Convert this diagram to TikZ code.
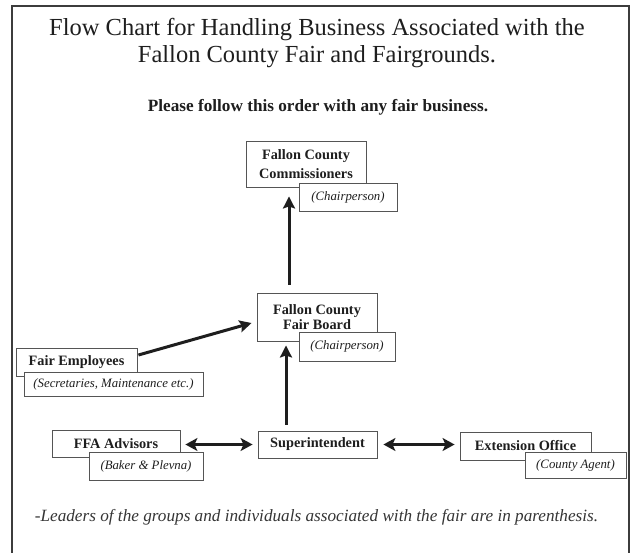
\documentclass[tikz,border=0pt]{standalone}
\usepackage{fontspec}
\setmainfont{Liberation Serif}
\usetikzlibrary{arrows.meta}
\definecolor{ink}{HTML}{1E1E1E}
\definecolor{edge}{HTML}{555555}
\definecolor{framec}{HTML}{3C3C3C}
\tikzset{
  box/.style={draw=edge, line width=0.9pt, fill=white, inner sep=0pt, text=ink,
    align=center, font=\fontsize{14.3}{18.5}\selectfont\bfseries},
  sub/.style={draw=edge, line width=0.9pt, fill=white, inner sep=0pt, text=ink,
    align=center, font=\fontsize{12.8}{15}\selectfont\itshape},
  arr/.style={draw=ink, line width=3pt, -{Stealth[length=12pt,width=12pt,inset=2pt]}},
  darr/.style={draw=ink, line width=3pt, {Stealth[length=12pt,width=13pt,inset=3pt]}-{Stealth[length=12pt,width=13pt,inset=3pt]}},
}
\begin{document}
\begin{tikzpicture}[x=1pt,y=-1pt]
\useasboundingbox (0,0) rectangle (634,552);
\draw[framec, line width=1.6pt] (12,580) -- (12,6) -- (629,6) -- (629,580);

\node[text=ink, align=center, font=\fontsize{24.5}{27}\selectfont] (title) at (317,43)
  {Flow Chart for Handling Business Associated with the\\Fallon County Fair and Fairgrounds.};
\node[text=ink, font=\fontsize{17.2}{19}\selectfont\bfseries] (please) at (318,107)
  {Please follow this order with any fair business.};

\node[box, minimum width=120pt, minimum height=46pt] (com) at (306,164)
  {Fallon County\\Commissioners};
\node[sub, minimum width=98pt, minimum height=28pt] (comc) at (348,197) {(Chairperson)};

\node[box, minimum width=120pt, minimum height=48pt, font=\fontsize{14.3}{15.5}\selectfont\bfseries] (fb) at (317,317)
  {Fallon County\\Fair Board};
\node[sub, minimum width=96pt, minimum height=29pt] (fbc) at (347,346.5) {(Chairperson)};

\node[box, minimum width=121pt, minimum height=28pt] (fe) at (76.5,362) {Fair Employees};
\node[sub, minimum width=179pt, minimum height=24pt] (fes) at (113.5,384) {(Secretaries, Maintenance etc.)};

\node[box, minimum width=128pt, minimum height=27pt] (ffa) at (116,443.5) {FFA Advisors};
\node[sub, minimum width=114pt, minimum height=28pt] (ffas) at (146,466) {(Baker \& Plevna)};

\node[box, minimum width=119pt, minimum height=27pt] (sup) at (317.5,444.5) {Superintendent};

\node[box, minimum width=131pt, minimum height=28pt] (ext) at (525.5,446) {Extension Office};
\node[sub, minimum width=101pt, minimum height=26pt] (exts) at (575.5,465) {(County Agent)};

\node[text=ink!90, font=\fontsize{17.2}{19}\selectfont\itshape] (foot) at (316.5,517)
  {-Leaders of the groups and individuals associated with the fair are in parenthesis.};

\draw[arr] ([xshift=-28pt,yshift=8pt]fb.north) -- ([xshift=-17pt,yshift=-9pt]com.south);
\draw[arr] ([xshift=-31.5pt,yshift=6pt]sup.north) -- ([xshift=-31pt,yshift=-4pt]fb.south);
\draw[arr] ([xshift=1pt,yshift=7pt]fe.east) -- ([xshift=-5pt,yshift=-6pt]fb.west);
\draw[darr] ([xshift=5pt,yshift=-1pt]ffa.east) -- ([xshift=-5pt]sup.west);
\draw[darr] ([xshift=6pt]sup.east) -- ([xshift=-5pt,yshift=1.5pt]ext.west);
\end{tikzpicture}
\end{document}
